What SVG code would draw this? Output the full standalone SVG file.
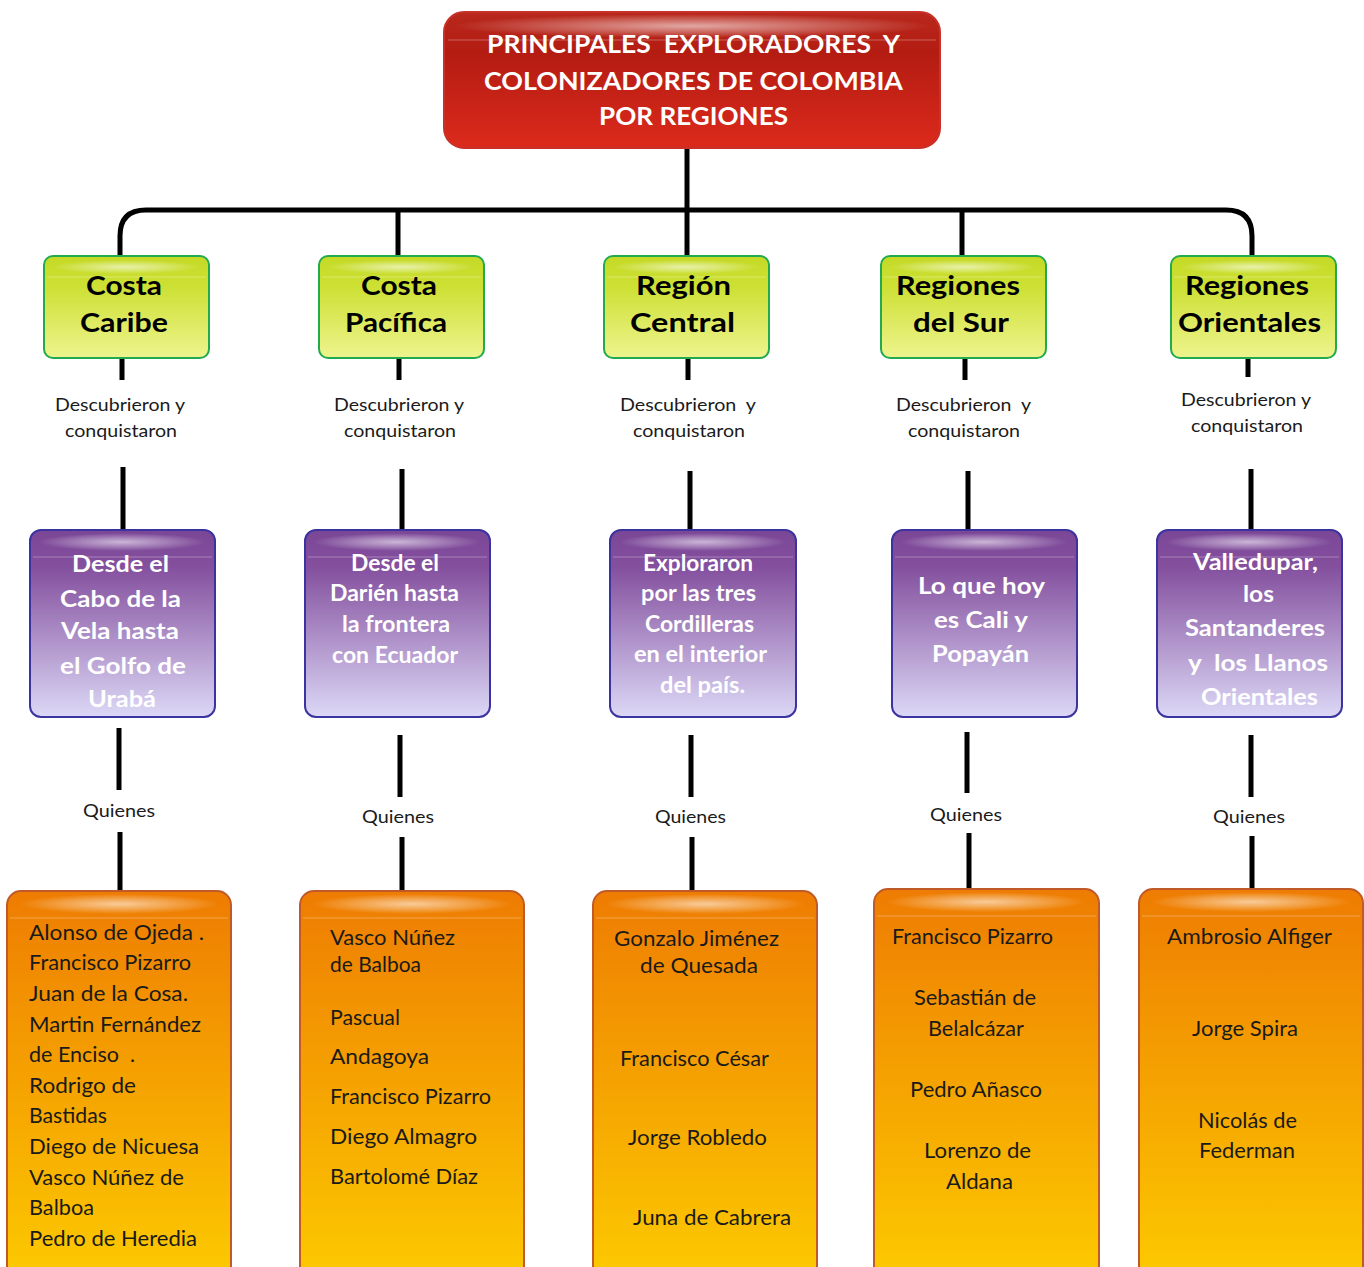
<svg xmlns="http://www.w3.org/2000/svg" width="1364" height="1267" viewBox="0 0 1364 1267" xml:space="preserve">
<style>
text{font-family:Lato,"Open Sans","Liberation Sans",sans-serif;white-space:pre}
.t{fill:#fff;font-weight:700;font-size:25px}
.g{fill:#000;font-weight:700;font-size:27px}
.p{fill:#fff;font-weight:700;font-size:22px}
.o{fill:#1a1a1a;font-size:21px}
.l{fill:#1a1a1a;font-size:18px}
.ln{stroke:#000;stroke-width:5;fill:none}
.gl{stroke:#fff;stroke-opacity:0.3;stroke-width:1}
.red{fill:url(#gRed);stroke:#c8302a;stroke-width:2}
.grn{fill:url(#gGrn);stroke:#22aa4e;stroke-width:2}
.pur{fill:url(#gPur);stroke:#3b34a0;stroke-width:2}
.org{fill:url(#gOrg);stroke:#c05a28;stroke-width:2}
</style>
<defs>
<linearGradient id="gRed" x1="0" y1="0" x2="0" y2="1"><stop offset="0" stop-color="#b8281c"/><stop offset="0.3" stop-color="#b41c12"/><stop offset="1" stop-color="#dc2a1c"/></linearGradient>
<linearGradient id="gGrn" x1="0" y1="0" x2="0" y2="1"><stop offset="0" stop-color="#c4da26"/><stop offset="0.3" stop-color="#cde034"/><stop offset="1" stop-color="#eef48e"/></linearGradient>
<linearGradient id="gPur" x1="0" y1="0" x2="0" y2="1"><stop offset="0" stop-color="#7a4696"/><stop offset="0.2" stop-color="#84509e"/><stop offset="1" stop-color="#dcd8f6"/></linearGradient>
<linearGradient id="gOrg" x1="0" y1="0" x2="0" y2="1"><stop offset="0" stop-color="#ee7c02"/><stop offset="0.95" stop-color="#fcc800"/><stop offset="1" stop-color="#fcca00"/></linearGradient>
<radialGradient id="gloss" cx="0.5" cy="0.5" r="0.5"><stop offset="0" stop-color="#fff" stop-opacity="0.6"/><stop offset="0.6" stop-color="#fff" stop-opacity="0.25"/><stop offset="1" stop-color="#fff" stop-opacity="0"/></radialGradient>
</defs>

<g id="connectors">
<path class="ln" d="M687,148 V256"/>
<path class="ln" stroke-width="4" d="M120,256 V236 Q120,210 146,210 H1226 Q1252,210 1252,236 V256"/>
<path class="ln" d="M398,210 V256"/>
<path class="ln" d="M962,210 V256"/>
<path class="ln" d="M122,358 V380 M399,358 V380 M688,358 V380 M965,358 V380 M1248,358 V377"/>
<path class="ln" d="M123,467 V530 M402,469 V530 M690,471 V530 M968,471 V530 M1251,469 V530"/>
<path class="ln" stroke-width="4" d="M119,728 V790 M400,735 V797 M691,735 V797 M967,732 V793 M1251,735 V797"/>
<path class="ln" stroke-width="4" d="M120,832 V891 M402,837 V891 M692,837 V891 M969,833 V889 M1252,836 V889"/>
</g>

<g id="title">
<rect class="red" x="444" y="12" width="496" height="136" rx="20"/>
<ellipse cx="692" cy="26" rx="240" ry="12" fill="url(#gloss)"/>
<line class="gl" x1="448" y1="40" x2="936" y2="40"/>
<text class="t" x="487" y="53" textLength="413" lengthAdjust="spacingAndGlyphs">PRINCIPALES  EXPLORADORES  Y</text>
<text class="t" x="484" y="90" textLength="419" lengthAdjust="spacingAndGlyphs">COLONIZADORES DE COLOMBIA</text>
<text class="t" x="599" y="125" textLength="189" lengthAdjust="spacingAndGlyphs">POR REGIONES</text>
</g>

<g id="costa-caribe">
<rect class="grn" x="44" y="256" width="165" height="102" rx="9"/>
<ellipse cx="126" cy="267" rx="74" ry="7" fill="url(#gloss)"/>
<line class="gl" x1="47" y1="277" x2="206" y2="277"/>
<text class="g" x="86" y="295" textLength="76" lengthAdjust="spacingAndGlyphs">Costa</text>
<text class="g" x="80" y="332" textLength="88" lengthAdjust="spacingAndGlyphs">Caribe</text>
</g>
<g id="costa-pacifica">
<rect class="grn" x="319" y="256" width="165" height="102" rx="9"/>
<ellipse cx="401" cy="267" rx="74" ry="7" fill="url(#gloss)"/>
<line class="gl" x1="322" y1="277" x2="481" y2="277"/>
<text class="g" x="361" y="295" textLength="76" lengthAdjust="spacingAndGlyphs">Costa</text>
<text class="g" x="345" y="332" textLength="102" lengthAdjust="spacingAndGlyphs">Pacífica</text>
</g>
<g id="region-central">
<rect class="grn" x="604" y="256" width="165" height="102" rx="9"/>
<ellipse cx="686" cy="267" rx="74" ry="7" fill="url(#gloss)"/>
<line class="gl" x1="607" y1="277" x2="766" y2="277"/>
<text class="g" x="636" y="295" textLength="95" lengthAdjust="spacingAndGlyphs">Región</text>
<text class="g" x="630" y="332" textLength="105" lengthAdjust="spacingAndGlyphs">Central</text>
</g>
<g id="regiones-sur">
<rect class="grn" x="881" y="256" width="165" height="102" rx="9"/>
<ellipse cx="963" cy="267" rx="74" ry="7" fill="url(#gloss)"/>
<line class="gl" x1="884" y1="277" x2="1043" y2="277"/>
<text class="g" x="896" y="295" textLength="124" lengthAdjust="spacingAndGlyphs">Regiones</text>
<text class="g" x="913" y="332" textLength="96" lengthAdjust="spacingAndGlyphs">del Sur</text>
</g>
<g id="regiones-orientales">
<rect class="grn" x="1171" y="256" width="165" height="102" rx="9"/>
<ellipse cx="1253" cy="267" rx="74" ry="7" fill="url(#gloss)"/>
<line class="gl" x1="1174" y1="277" x2="1333" y2="277"/>
<text class="g" x="1185" y="295" textLength="124" lengthAdjust="spacingAndGlyphs">Regiones</text>
<text class="g" x="1178" y="332" textLength="143" lengthAdjust="spacingAndGlyphs">Orientales</text>
</g>

<g id="labels-descubrieron">
<text class="l" x="55" y="411" textLength="130" lengthAdjust="spacingAndGlyphs">Descubrieron y</text>
<text class="l" x="65" y="437" textLength="112" lengthAdjust="spacingAndGlyphs">conquistaron</text>
<text class="l" x="334" y="411" textLength="130" lengthAdjust="spacingAndGlyphs">Descubrieron y</text>
<text class="l" x="344" y="437" textLength="112" lengthAdjust="spacingAndGlyphs">conquistaron</text>
<text class="l" x="620" y="411" textLength="136" lengthAdjust="spacingAndGlyphs">Descubrieron  y</text>
<text class="l" x="633" y="437" textLength="112" lengthAdjust="spacingAndGlyphs">conquistaron</text>
<text class="l" x="896" y="411" textLength="135" lengthAdjust="spacingAndGlyphs">Descubrieron  y</text>
<text class="l" x="908" y="437" textLength="112" lengthAdjust="spacingAndGlyphs">conquistaron</text>
<text class="l" x="1181" y="406" textLength="130" lengthAdjust="spacingAndGlyphs">Descubrieron y</text>
<text class="l" x="1191" y="432" textLength="112" lengthAdjust="spacingAndGlyphs">conquistaron</text>
</g>

<g id="desde-cabo-vela">
<rect class="pur" x="30" y="530" width="185" height="187" rx="11"/>
<ellipse cx="122" cy="542" rx="84" ry="9" fill="url(#gloss)"/>
<line class="gl" x1="33" y1="557" x2="212" y2="557"/>
<text class="p" x="72" y="572" textLength="97" lengthAdjust="spacingAndGlyphs">Desde el</text>
<text class="p" x="60" y="607" textLength="121" lengthAdjust="spacingAndGlyphs">Cabo de la</text>
<text class="p" x="61" y="639" textLength="118" lengthAdjust="spacingAndGlyphs">Vela hasta</text>
<text class="p" x="60" y="674" textLength="126" lengthAdjust="spacingAndGlyphs">el Golfo de</text>
<text class="p" x="88" y="707" textLength="68" lengthAdjust="spacingAndGlyphs">Urabá</text>
</g>
<g id="desde-darien">
<rect class="pur" x="305" y="530" width="185" height="187" rx="11"/>
<ellipse cx="397" cy="542" rx="84" ry="9" fill="url(#gloss)"/>
<line class="gl" x1="308" y1="557" x2="487" y2="557"/>
<text class="p" x="351" y="571" textLength="88" lengthAdjust="spacingAndGlyphs">Desde el</text>
<text class="p" x="330" y="601" textLength="129" lengthAdjust="spacingAndGlyphs">Darién hasta</text>
<text class="p" x="342" y="632" textLength="108" lengthAdjust="spacingAndGlyphs">la frontera</text>
<text class="p" x="332" y="663" textLength="126" lengthAdjust="spacingAndGlyphs">con Ecuador</text>
</g>
<g id="exploraron-cordilleras">
<rect class="pur" x="610" y="530" width="186" height="187" rx="11"/>
<ellipse cx="703" cy="542" rx="84" ry="9" fill="url(#gloss)"/>
<line class="gl" x1="613" y1="557" x2="793" y2="557"/>
<text class="p" x="643" y="571" textLength="110" lengthAdjust="spacingAndGlyphs">Exploraron</text>
<text class="p" x="641" y="601" textLength="115" lengthAdjust="spacingAndGlyphs">por las tres</text>
<text class="p" x="645" y="632" textLength="109" lengthAdjust="spacingAndGlyphs">Cordilleras</text>
<text class="p" x="634" y="662" textLength="133" lengthAdjust="spacingAndGlyphs">en el interior</text>
<text class="p" x="660" y="693" textLength="85" lengthAdjust="spacingAndGlyphs">del país.</text>
</g>
<g id="cali-popayan">
<rect class="pur" x="892" y="530" width="185" height="187" rx="11"/>
<ellipse cx="984" cy="542" rx="84" ry="9" fill="url(#gloss)"/>
<line class="gl" x1="895" y1="557" x2="1074" y2="557"/>
<text class="p" x="918" y="594" textLength="127" lengthAdjust="spacingAndGlyphs">Lo que hoy</text>
<text class="p" x="934" y="628" textLength="94" lengthAdjust="spacingAndGlyphs">es Cali y</text>
<text class="p" x="932" y="662" textLength="97" lengthAdjust="spacingAndGlyphs">Popayán</text>
</g>
<g id="valledupar-llanos">
<rect class="pur" x="1157" y="530" width="185" height="187" rx="11"/>
<ellipse cx="1249" cy="542" rx="84" ry="9" fill="url(#gloss)"/>
<line class="gl" x1="1160" y1="557" x2="1339" y2="557"/>
<text class="p" x="1193" y="570" textLength="125" lengthAdjust="spacingAndGlyphs">Valledupar,</text>
<text class="p" x="1243" y="602" textLength="31" lengthAdjust="spacingAndGlyphs">los</text>
<text class="p" x="1185" y="636" textLength="140" lengthAdjust="spacingAndGlyphs">Santanderes</text>
<text class="p" x="1188" y="671" textLength="140" lengthAdjust="spacingAndGlyphs">y  los Llanos</text>
<text class="p" x="1201" y="705" textLength="117" lengthAdjust="spacingAndGlyphs">Orientales</text>
</g>

<g id="labels-quienes">
<text class="l" x="83" y="817" textLength="72" lengthAdjust="spacingAndGlyphs">Quienes</text>
<text class="l" x="362" y="823" textLength="72" lengthAdjust="spacingAndGlyphs">Quienes</text>
<text class="l" x="655" y="823" textLength="71" lengthAdjust="spacingAndGlyphs">Quienes</text>
<text class="l" x="930" y="821" textLength="72" lengthAdjust="spacingAndGlyphs">Quienes</text>
<text class="l" x="1213" y="823" textLength="72" lengthAdjust="spacingAndGlyphs">Quienes</text>
</g>

<g id="caribe-exploradores">
<rect class="org" x="7" y="891" width="224" height="400" rx="14"/>
<ellipse cx="119" cy="904" rx="100" ry="10" fill="url(#gloss)"/>
<line class="gl" x1="10" y1="918" x2="228" y2="918"/>
<text class="o" x="29" y="940" textLength="175" lengthAdjust="spacingAndGlyphs">Alonso de Ojeda .</text>
<text class="o" x="29" y="970" textLength="162" lengthAdjust="spacingAndGlyphs">Francisco Pizarro</text>
<text class="o" x="29" y="1001" textLength="159" lengthAdjust="spacingAndGlyphs">Juan de la Cosa.</text>
<text class="o" x="29" y="1032" textLength="172" lengthAdjust="spacingAndGlyphs">Martin Fernández</text>
<text class="o" x="29" y="1062" textLength="106" lengthAdjust="spacingAndGlyphs">de Enciso  .</text>
<text class="o" x="29" y="1093" textLength="107" lengthAdjust="spacingAndGlyphs">Rodrigo de</text>
<text class="o" x="29" y="1123" textLength="78" lengthAdjust="spacingAndGlyphs">Bastidas</text>
<text class="o" x="29" y="1154" textLength="170" lengthAdjust="spacingAndGlyphs">Diego de Nicuesa</text>
<text class="o" x="29" y="1185" textLength="155" lengthAdjust="spacingAndGlyphs">Vasco Núñez de</text>
<text class="o" x="29" y="1215" textLength="65" lengthAdjust="spacingAndGlyphs">Balboa</text>
<text class="o" x="29" y="1246" textLength="168" lengthAdjust="spacingAndGlyphs">Pedro de Heredia</text>
</g>
<g id="pacifica-exploradores">
<rect class="org" x="300" y="891" width="224" height="400" rx="14"/>
<ellipse cx="412" cy="904" rx="100" ry="10" fill="url(#gloss)"/>
<line class="gl" x1="303" y1="918" x2="521" y2="918"/>
<text class="o" x="330" y="945" textLength="125" lengthAdjust="spacingAndGlyphs">Vasco Núñez</text>
<text class="o" x="330" y="972" textLength="91" lengthAdjust="spacingAndGlyphs">de Balboa</text>
<text class="o" x="330" y="1025" textLength="70" lengthAdjust="spacingAndGlyphs">Pascual</text>
<text class="o" x="330" y="1064" textLength="99" lengthAdjust="spacingAndGlyphs">Andagoya</text>
<text class="o" x="330" y="1104" textLength="161" lengthAdjust="spacingAndGlyphs">Francisco Pizarro</text>
<text class="o" x="330" y="1144" textLength="147" lengthAdjust="spacingAndGlyphs">Diego Almagro</text>
<text class="o" x="330" y="1184" textLength="148" lengthAdjust="spacingAndGlyphs">Bartolomé Díaz</text>
</g>
<g id="central-exploradores">
<rect class="org" x="593" y="891" width="224" height="400" rx="14"/>
<ellipse cx="705" cy="904" rx="100" ry="10" fill="url(#gloss)"/>
<line class="gl" x1="596" y1="918" x2="814" y2="918"/>
<text class="o" x="614" y="946" textLength="165" lengthAdjust="spacingAndGlyphs">Gonzalo Jiménez</text>
<text class="o" x="640" y="973" textLength="118" lengthAdjust="spacingAndGlyphs">de Quesada</text>
<text class="o" x="620" y="1066" textLength="149" lengthAdjust="spacingAndGlyphs">Francisco César</text>
<text class="o" x="628" y="1145" textLength="139" lengthAdjust="spacingAndGlyphs">Jorge Robledo</text>
<text class="o" x="633" y="1225" textLength="158" lengthAdjust="spacingAndGlyphs">Juna de Cabrera</text>
</g>
<g id="sur-exploradores">
<rect class="org" x="874" y="889" width="225" height="400" rx="14"/>
<ellipse cx="986" cy="902" rx="100" ry="10" fill="url(#gloss)"/>
<line class="gl" x1="877" y1="916" x2="1096" y2="916"/>
<text class="o" x="892" y="944" textLength="161" lengthAdjust="spacingAndGlyphs">Francisco Pizarro</text>
<text class="o" x="914" y="1005" textLength="122" lengthAdjust="spacingAndGlyphs">Sebastián de</text>
<text class="o" x="928" y="1036" textLength="96" lengthAdjust="spacingAndGlyphs">Belalcázar</text>
<text class="o" x="910" y="1097" textLength="132" lengthAdjust="spacingAndGlyphs">Pedro Añasco</text>
<text class="o" x="924" y="1158" textLength="107" lengthAdjust="spacingAndGlyphs">Lorenzo de</text>
<text class="o" x="946" y="1189" textLength="67" lengthAdjust="spacingAndGlyphs">Aldana</text>
</g>
<g id="orientales-exploradores">
<rect class="org" x="1139" y="889" width="224" height="400" rx="14"/>
<ellipse cx="1251" cy="902" rx="100" ry="10" fill="url(#gloss)"/>
<line class="gl" x1="1142" y1="916" x2="1360" y2="916"/>
<text class="o" x="1167" y="944" textLength="165" lengthAdjust="spacingAndGlyphs">Ambrosio Alfiger</text>
<text class="o" x="1192" y="1036" textLength="106" lengthAdjust="spacingAndGlyphs">Jorge Spira</text>
<text class="o" x="1198" y="1128" textLength="99" lengthAdjust="spacingAndGlyphs">Nicolás de</text>
<text class="o" x="1199" y="1158" textLength="96" lengthAdjust="spacingAndGlyphs">Federman</text>
</g>
</svg>
